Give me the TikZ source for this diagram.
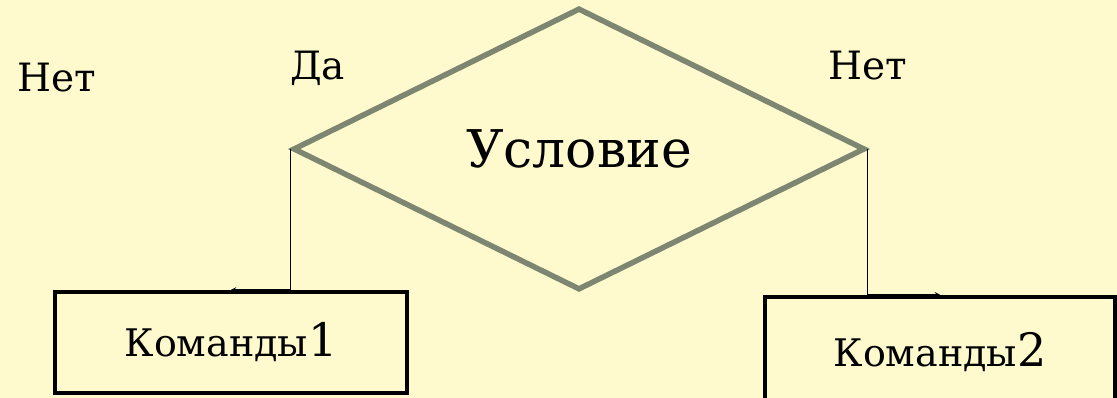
\documentclass[tikz,border=0pt]{standalone}
\usepackage{fontspec}
\setmainfont{DejaVu Serif}
\newfontfamily\timesru{DejaVu Serif}
\usepackage{xcolor}
\usetikzlibrary{shapes,arrows,positioning}

\definecolor{bgyellow}{HTML}{FFFACD}
\definecolor{condgray}{HTML}{7C8670}

\tikzset{
  decision/.style={diamond, draw=condgray, line width=5.5pt, inner sep=0pt,
    minimum width=572pt, minimum height=282pt, font=\timesru\fontsize{52}{56}\selectfont},
  cmdbox/.style={rectangle, draw=black, line width=4.5pt, inner sep=0pt,
    font=\timesru\fontsize{38}{42}\selectfont},
  lbl/.style={anchor=base west, inner sep=0pt, font=\timesru\fontsize{39}{42}\selectfont},
  conn/.style={-stealth, black, line width=1.3pt}
}
\newcommand{\dig}[1]{{\fontsize{46}{50}\selectfont #1}}

\begin{document}
\begin{tikzpicture}[x=1pt, y=-1pt]
    % background
    \fill[bgyellow] (0,0) rectangle (1117,398);
    \useasboundingbox (0,0) rectangle (1117,398);

    % condition
    \node[decision] (cond) at (579,149) {Условие};

    % command blocks
    \node[cmdbox, minimum width=352pt, minimum height=101pt] (cmd1) at (231,342.5) {Команды\dig{1}};
    \node[cmdbox, minimum width=350pt, minimum height=110pt] (cmd2) at (940,352) {Команды\dig{2}};

    % branches
    \draw[conn] (cond.west) |- (cmd1.north);
    \draw[conn] (cond.east) |- (cmd2.north);

    % labels
    \node[lbl] (no1) at (17,92) {Нет};
    \node[lbl] (yes) at (290,80) {Да};
    \node[lbl] (no2) at (828,80) {Нет};
\end{tikzpicture}
\end{document}
